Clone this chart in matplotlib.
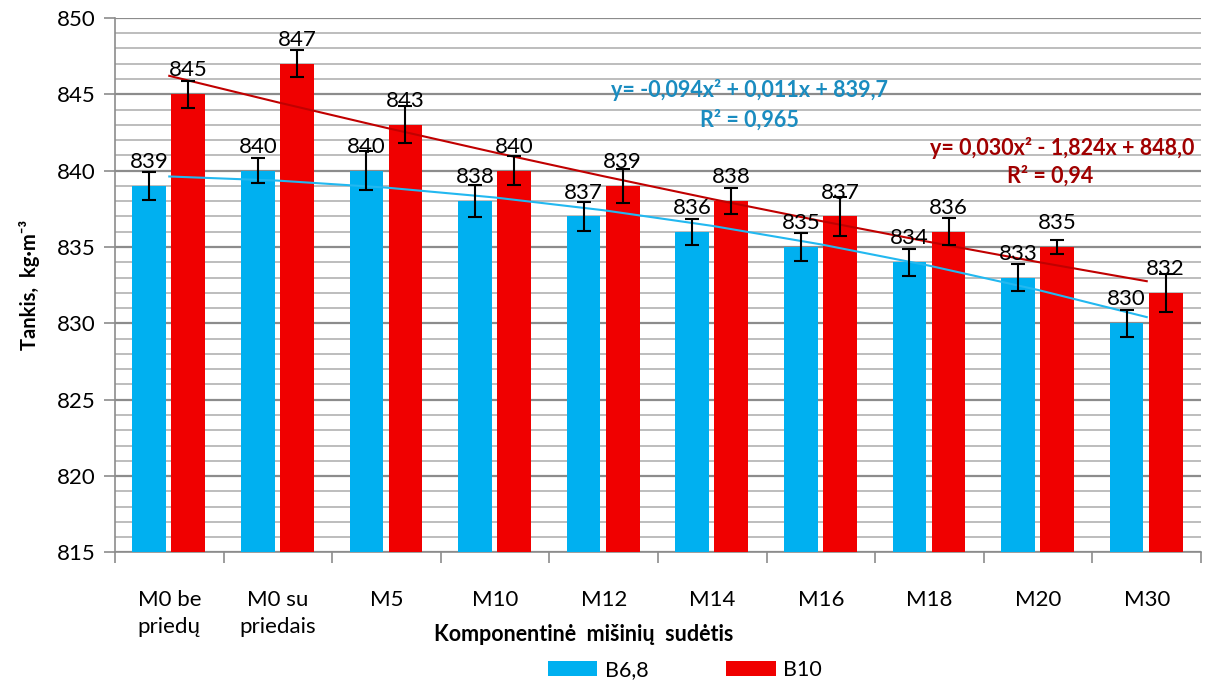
import matplotlib as mpl
import matplotlib.pyplot as plt
from matplotlib.ticker import MultipleLocator, FixedLocator
import numpy as np

mpl.rc('font', family=['Lato', 'DejaVu Sans'])

# data
categories = ['M0 be\npriedų', 'M0 su\npriedais', 'M5', 'M10', 'M12',
              'M14', 'M16', 'M18', 'M20', 'M30']
b68 = [839, 840, 840, 838, 837, 836, 835, 834, 833, 830]
b10 = [845, 847, 843, 840, 839, 838, 837, 836, 835, 832]
b68_err = [0.9, 0.8, 1.3, 1.05, 0.95, 0.85, 0.9, 0.9, 0.9, 0.9]
b10_err = [0.9, 0.87, 1.2, 0.95, 1.1, 0.85, 1.3, 0.9, 0.45, 1.25]

# trendline coefficients printed on the chart (a*x^2 + b*x + c)
trend_b68 = [-0.094, 0.011, 839.7]
trend_b10 = [0.030, -1.824, 848.0]

blue = '#00B0F0'
red = '#F00000'

fig = plt.figure(figsize=(12.1, 6.88), dpi=100)
ax = fig.add_axes([0.095, 0.197, 0.8976, 0.777])

x = np.arange(len(categories))
w = 0.31
ax.bar(x - 0.185, [v - 815 for v in b68], w, bottom=815, color=blue, zorder=3, label='B6,8')
ax.bar(x + 0.175, [v - 815 for v in b10], w, bottom=815, color=red, zorder=3, label='B10')
ax.errorbar(x - 0.185, b68, yerr=b68_err, fmt='none', ecolor='black', elinewidth=1.5,
            capsize=5, capthick=1.5, zorder=5)
ax.errorbar(x + 0.175, b10, yerr=b10_err, fmt='none', ecolor='black', elinewidth=1.5,
            capsize=5, capthick=1.5, zorder=5)

for xi, v in zip(x - 0.185, b68):
    ax.annotate(str(v), (xi, v), xytext=(0, 10), textcoords='offset points',
                ha='center', va='bottom', fontsize=16, zorder=6)
for xi, v in zip(x + 0.175, b10):
    ax.annotate(str(v), (xi, v), xytext=(0, 10), textcoords='offset points',
                ha='center', va='bottom', fontsize=16, zorder=6)

# trendlines
xt = x + 1
ax.plot(x, np.polyval(trend_b68, xt), color='#22B8F0', lw=1.5, zorder=4)
ax.plot(x, np.polyval(trend_b10, xt), color='#C00000', lw=1.5, zorder=4)

eq_font = dict(fontsize=15.5, fontweight='bold', va='center')
ax.text(0.584, 0.865, 'y= -0,094x² + 0,011x + 839,7', transform=ax.transAxes,
        color='#1A8CC0', ha='center', **eq_font)
ax.text(0.584, 0.808, 'R² = 0,965', transform=ax.transAxes,
        color='#1A8CC0', ha='center', **eq_font)
ax.text(0.994, 0.757, 'y= 0,030x² - 1,824x + 848,0', transform=ax.transAxes,
        color='#A00000', ha='right', **eq_font)
ax.text(0.861, 0.705, 'R² = 0,94', transform=ax.transAxes,
        color='#A00000', ha='center', **eq_font)

ax.set_xlim(-0.5, len(categories) - 0.5)
ax.set_ylim(815, 850)
ax.yaxis.set_major_locator(MultipleLocator(5))
ax.yaxis.set_minor_locator(MultipleLocator(1))
ax.grid(which='major', axis='y', color='#8C8C8C', lw=1.6, zorder=0)
ax.grid(which='minor', axis='y', color='#BDBDBD', lw=1.4, zorder=0)
ax.set_xticks(x)
ax.set_xticklabels(categories, fontsize=16, linespacing=1.45)
ax.xaxis.set_minor_locator(FixedLocator(np.arange(-0.5, len(categories), 1)))
ax.tick_params(axis='x', which='major', length=0, pad=27)
ax.tick_params(axis='x', which='minor', length=8, width=1.2, color='#8C8C8C')
ax.tick_params(axis='y', which='major', length=8, width=1.2, color='#8C8C8C',
               labelsize=16, pad=6)
ax.tick_params(axis='y', which='minor', length=0)

for s in ['top', 'right']:
    ax.spines[s].set_visible(False)
for s in ['left', 'bottom']:
    ax.spines[s].set_color('#8C8C8C')
    ax.spines[s].set_linewidth(1.2)

ax.set_ylabel('Tankis,  kg·m⁻³', fontsize=14.5, fontweight='bold', labelpad=12)
fig.text(0.482, 0.078, 'Komponentinė  mišinių  sudėtis', fontsize=15.5,
         fontweight='bold', ha='center', va='center')

handles, labels = ax.get_legend_handles_labels()
fig.legend(handles, labels, loc='center', bbox_to_anchor=(0.566, 0.026), ncol=2,
           frameon=False, fontsize=15.5, handlelength=2.3, handleheight=0.65,
           columnspacing=3.6, handletextpad=0.35)

fig.savefig('out.png', dpi=100)
